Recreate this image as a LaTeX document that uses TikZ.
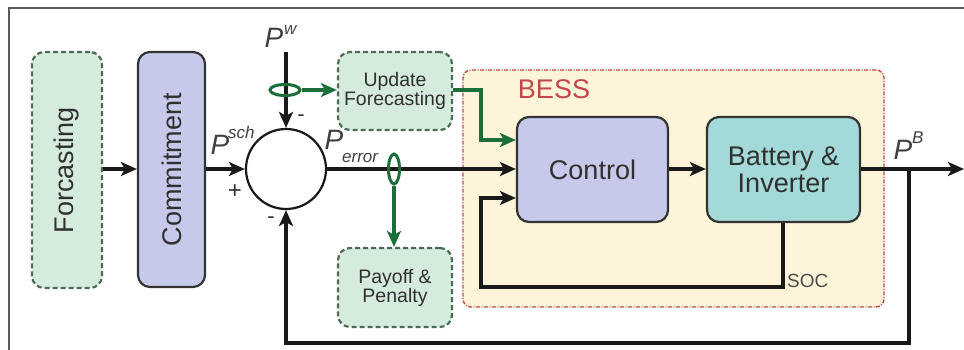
\documentclass[tikz,border=0pt]{standalone}
\usepackage{fontspec}
\setmainfont{Liberation Sans}
\usetikzlibrary{arrows.meta,shapes.geometric}
\definecolor{boxgreen}{HTML}{D5ECDD}
\definecolor{dashgreen}{HTML}{4C6B58}
\definecolor{arrowgreen}{HTML}{1C6E3A}
\definecolor{lavender}{HTML}{C6C9E9}
\definecolor{tealbox}{HTML}{A3D9D8}
\definecolor{bessfill}{HTML}{FDF4D9}
\definecolor{bessred}{HTML}{C4454A}
\definecolor{txt}{HTML}{303030}
\definecolor{framegray}{HTML}{5A5A5A}
\tikzset{
  big/.style={font=\fontsize{27}{31}\selectfont},
  small/.style={font=\fontsize{19.5}{22}\selectfont},
  dashbox/.style={draw=dashgreen, fill=boxgreen, line width=2.2pt,
    dash pattern=on 5pt off 3pt, rounded corners=12pt, text=txt, align=center, inner sep=0pt},
  solidbox/.style={draw=black!80, line width=2.2pt, rounded corners=12pt,
    text=txt, align=center, inner sep=0pt},
  sig/.style={line width=3.2pt, draw=black!90},
  sigarrow/.style={sig, -{Stealth[length=16pt,width=14pt,inset=4pt]}},
  greenarrow/.style={line width=3.2pt, draw=arrowgreen, -{Stealth[length=16pt,width=14pt,inset=4pt]}},
  tapring/.style={ellipse, draw=arrowgreen, line width=3pt, inner sep=0pt},
  plabel/.style={font=\fontsize{28}{30}\selectfont\itshape, text=black!75, inner sep=0pt},
  supp/.style={font=\fontsize{17}{19}\selectfont\itshape, text=black!75, inner sep=0pt},
}
\begin{document}
\begin{tikzpicture}[x=1pt, y=-1pt]
  \useasboundingbox (0,0) rectangle (964,350);
  % outer frame
  \draw[framegray, line width=1.5pt] (9,350) -- (9,8) -- (964,8);

  % BESS enclosure
  \node[draw=bessred, fill=bessfill, line width=1.4pt,
        dash pattern=on 4pt off 1.5pt on 1pt off 1.5pt, rounded corners=8pt,
        minimum width=421pt, minimum height=237pt, inner sep=0pt] (bess) at (673.5,188.5) {};
  \node[big, text=bessred, anchor=center] (besslbl) at (554,89) {BESS};

  % blocks
  \node[dashbox, big, minimum width=70pt, minimum height=236pt] (forc) at (67,170) {};
  \node[big, text=txt, rotate=90] (forclbl) at (67,170) {Forcasting};
  \node[solidbox, fill=lavender, minimum width=67pt, minimum height=235pt] (commit) at (171.5,169.5) {};
  \node[big, text=txt, rotate=90] (commitlbl) at (171.5,169.5) {Commitment};
  \node[dashbox, small, minimum width=114pt, minimum height=78pt] (upd) at (395,91) {Update\\[-3pt]Forecasting};
  \node[dashbox, small, minimum width=114pt, minimum height=79pt] (pay) at (395,287.5) {Payoff \&\\[-3pt]Penalty};
  \node[solidbox, big, fill=lavender, minimum width=151pt, minimum height=105pt] (ctrl) at (592.5,169.5) {Control};
  \node[solidbox, big, fill=tealbox, minimum width=153pt, minimum height=105pt] (batt) at (783.5,169.5) {Battery \&\\[-4pt]Inverter};

  % summing junction
  \node[circle, draw=black!90, fill=white, line width=2.2pt, minimum size=80pt, inner sep=0pt] (sum) at (286,169) {};

  % coordinates for free ends and corners
  \coordinate (pwtop) at (286,52);
  \coordinate (out) at (964,169);
  \coordinate (tap) at (909,169);
  \coordinate (fbr) at (909,343);
  \coordinate (fbl) at (286,343);
  \coordinate (socA) at (783,287);
  \coordinate (socB) at (481,287);
  \coordinate (socC) at (481,198);
  \coordinate (grA) at (481,90);
  \coordinate (grB) at (481,140);

  % main signal path
  \draw[sigarrow] (forc.east |- 0,169) -- (commit.west |- 0,169);
  \draw[sigarrow] (commit.east |- 0,169) -- (sum.west);
  \draw[sigarrow] (pwtop) -- (sum.north);
  \draw[sigarrow] (sum.east) -- (ctrl.west |- 0,169);
  \draw[sigarrow] (ctrl.east |- 0,169) -- (batt.west |- 0,169);
  \draw[sigarrow] (batt.east |- 0,169) -- (out);
  % output feedback
  \draw[sigarrow] (tap) -- (fbr) -- (fbl) -- (sum.south);
  % SOC feedback
  \draw[sigarrow] (batt.south -| socA) -- (socA) -- (socB) -- (socC) -- (ctrl.west |- socC);
  \node[font=\fontsize{19}{21}\selectfont, text=black!70, anchor=west, inner sep=0pt] (soclbl) at (787,281) {SOC};

  % measurement taps
  \node[tapring, minimum width=30pt, minimum height=11pt] (ring1) at (285,90) {};
  \node[tapring, minimum width=11pt, minimum height=30pt] (ring2) at (394,169) {};
  \draw[greenarrow] (ring1.east) -- (upd.west |- ring1.east);
  \draw[greenarrow] (ring2.south) -- (pay.north -| ring2.south);
  \draw[greenarrow] (upd.east |- grA) -- (grA) -- (grB) -- (ctrl.west |- grB);

  % signal labels
  \node[plabel] (pw) at (274,38) {P};
  \node[supp, anchor=west] (pwsup) at (284,30) {w};
  \node[plabel] (psch) at (220,145) {P};
  \node[supp, anchor=west] (pschsup) at (228,132) {sch};
  \node[plabel] (perr) at (334,140) {P};
  \node[supp, anchor=west] (perrsub) at (342,158) {error};
  \node[plabel] (pb) at (903,150) {P};
  \node[supp, anchor=west] (pbsup) at (912,138) {B};
  \node[font=\fontsize{24}{26}\selectfont, text=black!80, inner sep=0pt] (plus) at (235,192) {+};
  \node[font=\fontsize{22}{24}\selectfont, text=black!80, inner sep=0pt] (minus1) at (301,118) {-};
  \node[font=\fontsize{22}{24}\selectfont, text=black!80, inner sep=0pt] (minus2) at (271,220) {-};
\end{tikzpicture}
\end{document}
